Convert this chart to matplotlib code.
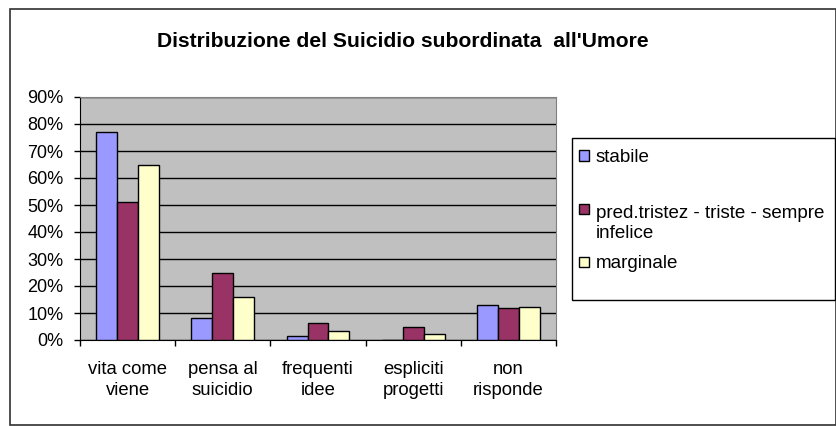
import numpy as np
import matplotlib
matplotlib.use("Agg")
from matplotlib import pyplot as plt
from matplotlib.patches import Rectangle

categories = ["vita come\nviene", "pensa al\nsuicidio", "frequenti\nidee",
              "espliciti\nprogetti", "non\nrisponde"]
series_names = ["stabile", "pred.tristez - triste - sempre\ninfelice", "marginale"]
stabile = [77, 8.3, 1.5, 0, 13]
pred_tristezza = [51, 24.7, 6.4, 4.7, 11.7]
marginale = [65, 15.8, 3.4, 2.1, 12.3]
colors = ["#9999FF", "#993366", "#FFFFCC"]
yticks = np.arange(0, 100, 10)

plt.rcParams['font.family'] = ['Liberation Sans', 'DejaVu Sans']

W, H = 837, 426
fig = plt.figure(figsize=(W / 100, H / 100), dpi=100)
fig.patch.set_facecolor("white")

def fx(px):
    return px / W

def fy(py):
    return 1 - py / H

# outer chart frame
fig.patches.append(Rectangle((fx(10), fy(425)), 826 / W, 416 / H,
                             transform=fig.transFigure, fill=False,
                             edgecolor="#303030", linewidth=1.2))

ax = fig.add_axes([fx(80), fy(340), 476 / W, 243 / H])
ax.set_facecolor("#C0C0C0")

ind = np.arange(len(categories))
width = 0.22
for i, vals in enumerate([stabile, pred_tristezza, marginale]):
    ax.bar(ind + (i - 1) * width, vals, width, color=colors[i], edgecolor="black",
           linewidth=1.0, label=series_names[i], zorder=3)

ax.set_xlim(-0.5, len(categories) - 0.5)
ax.set_ylim(0, 90)
ax.set_yticks(yticks)
ax.set_yticklabels([f"{v}%" for v in yticks], fontsize=13)
ax.yaxis.grid(True, color="black", linewidth=1.0, zorder=1)
ax.set_axisbelow(True)

# category boundaries get the tick marks, labels sit in the middle
ax.set_xticks(np.arange(-0.5, len(categories), 1.0))
ax.set_xticklabels([])
ax.set_xticks(ind, minor=True)
ax.set_xticklabels(categories, minor=True, fontsize=13.3)
for lbl in ax.get_xticklabels(minor=True):
    lbl.set_linespacing(1.3)
ax.tick_params(axis="x", which="minor", length=0, pad=15)
ax.tick_params(axis="x", which="major", direction="out", length=4, width=1)
ax.tick_params(axis="y", direction="out", length=4, width=1, pad=8)

for side in ["top", "right"]:
    ax.spines[side].set_color("#808080")
for side in ["left", "bottom"]:
    ax.spines[side].set_color("black")

fig.text(fx(403), fy(47), "Distribuzione del Suicidio subordinata  all'Umore",
         ha="center", va="baseline", fontsize=15.2, fontweight="bold")

# legend box, drawn by hand to get Excel's uneven entry spacing
fig.patches.append(Rectangle((fx(572), fy(300)), 263 / W, 162 / H,
                             transform=fig.transFigure, fill=False,
                             edgecolor="black", linewidth=1.0))
# first-line baseline (for the marker) and last-line baseline (for the text)
first_base = [161.5, 215, 268]
last_base = [161.5, 238, 268]
for name, color, b1, b2 in zip(series_names, colors, first_base, last_base):
    fig.patches.append(Rectangle((fx(579), fy(b1 - 1)), 10.5 / W, 10.5 / H,
                                 transform=fig.transFigure, facecolor=color,
                                 edgecolor="black", linewidth=1.0))
    fig.text(fx(596), fy(b2), name, ha="left", va="baseline",
             fontsize=13.5, linespacing=1.25)

fig.savefig("out.png", dpi=100)
